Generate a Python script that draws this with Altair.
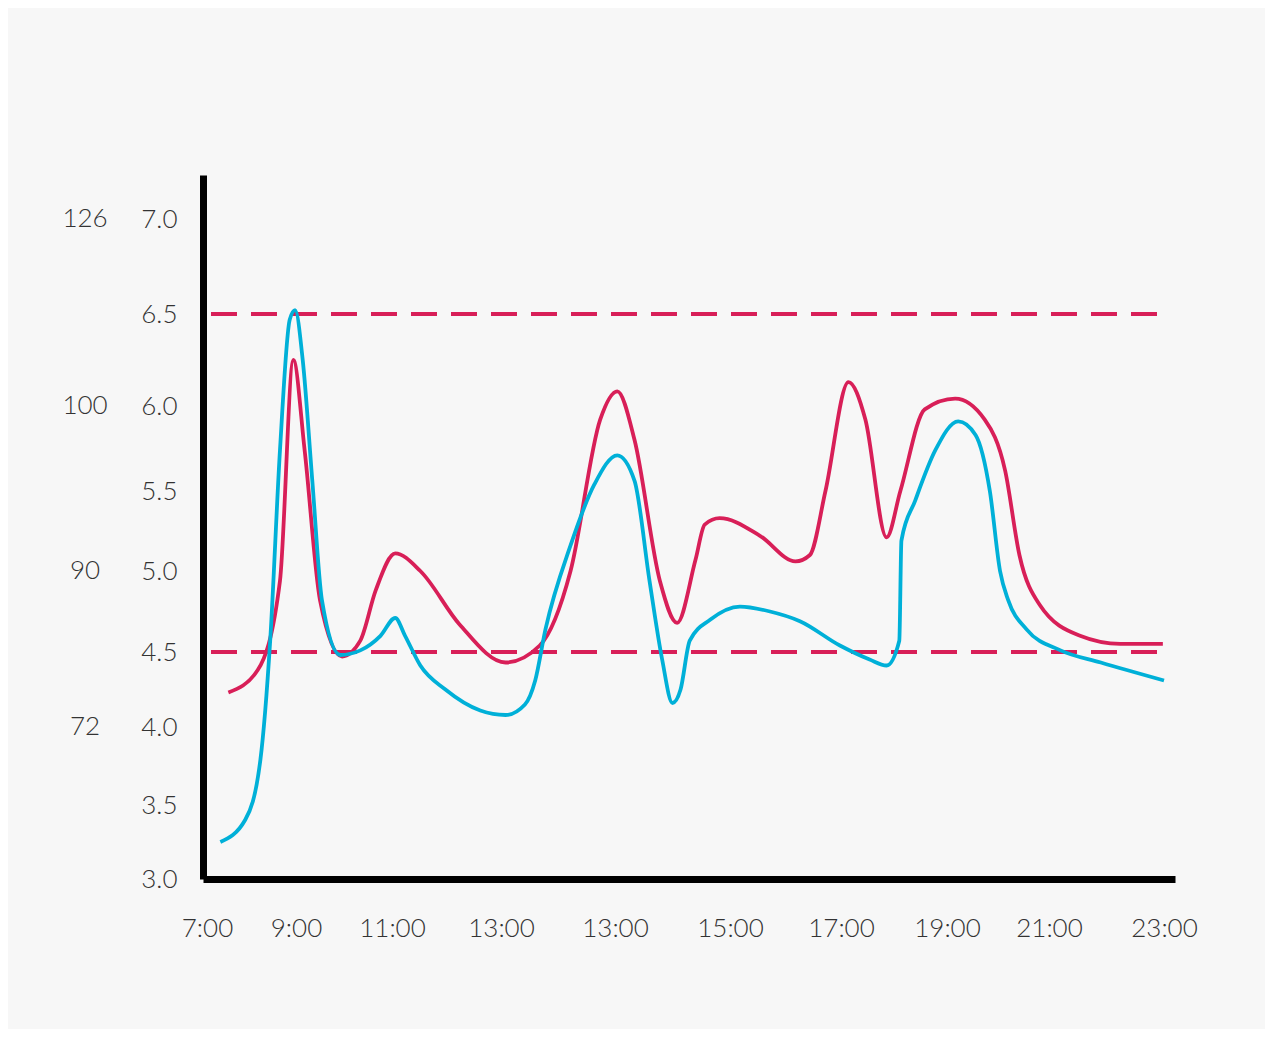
import pandas as pd
import altair as alt

# x positions are tick indices (labels below); y in mmol/L
tick_labels = ["7:00", "9:00", "11:00", "13:00", "13:00", "15:00", "17:00", "19:00", "21:00", "23:00"]
y_ticks = [3.0, 3.5, 4.0, 4.5, 5.0, 5.5, 6.0, 6.5, 7.0]
mg_values = [126, 100, 90, 72]
mg_at = [7.0, 6.0, 5.0, 4.0]
limits = [6.5, 4.5]

red_x = [0.24, 0.57, 0.82, 0.97, 1.09, 1.25, 1.48, 1.67, 1.83, 2.03, 2.26, 2.62, 3.04, 3.34, 3.61,
         3.87, 4.02, 4.17, 4.39, 4.54, 4.70, 4.78, 4.91, 5.27, 5.59, 5.72, 5.86, 6.07, 6.23, 6.43,
         6.56, 6.79, 7.08, 7.37, 7.57, 7.71, 7.91, 8.27, 8.62, 8.99]
red_y = [4.23, 4.38, 4.94, 6.25, 5.74, 4.82, 4.47, 4.57, 4.88, 5.11, 5.0, 4.67, 4.43, 4.54, 5.0,
         5.92, 6.08, 5.80, 4.94, 4.68, 5.07, 5.29, 5.33, 5.22, 5.06, 5.10, 5.5, 6.13, 5.92, 5.21,
         5.5, 5.98, 6.04, 5.92, 5.62, 5.10, 4.79, 4.60, 4.55, 4.55]

blue_x = [0.15, 0.43, 0.60, 0.71, 0.82, 0.93, 0.99, 1.07, 1.17, 1.27, 1.46, 1.67, 1.88, 2.03, 2.12,
          2.26, 2.49, 2.81, 3.04, 3.21, 3.30, 3.39, 3.61, 3.82, 4.02, 4.17, 4.30, 4.41, 4.50, 4.57,
          4.65, 4.83, 5.09, 5.36, 5.63, 5.99, 6.27, 6.43, 6.55, 6.57, 6.70, 6.89, 7.11, 7.28, 7.42,
          7.52, 7.60, 7.78, 8.10, 8.45, 9.0]
blue_y = [3.25, 3.40, 3.79, 4.57, 5.74, 6.47, 6.52, 6.25, 5.56, 4.82, 4.48, 4.51, 4.60, 4.71, 4.60,
          4.41, 4.25, 4.11, 4.08, 4.15, 4.31, 4.64, 5.16, 5.54, 5.71, 5.56, 4.94, 4.45, 4.16, 4.25,
          4.57, 4.70, 4.78, 4.75, 4.69, 4.54, 4.45, 4.41, 4.57, 5.19, 5.44, 5.74, 5.91, 5.83, 5.5,
          5.0, 4.82, 4.64, 4.51, 4.43, 4.31]

RED = "#d81f58"
BLUE = "#00b0d8"
FONT = "Lato"

df = pd.concat([
    pd.DataFrame({"k": red_x, "v": red_y, "s": "red"}),
    pd.DataFrame({"k": blue_x, "v": blue_y, "s": "blue"}),
])

# uneven spacing of the original axes, as piecewise linear scales
x_scale = alt.Scale(domain=[-0.045] + list(range(10)) + [9.1],
                    range=[0, 4, 93, 189, 298, 412, 527, 638, 744, 846, 961, 972])
y_scale = alt.Scale(domain=y_ticks + [7.23], range=[704, 630, 552, 477, 396, 316, 231, 139, 44, 0])

label_expr = "[" + ",".join(f"'{t}'" for t in tick_labels) + "][datum.value]"

x_enc = alt.X("k:Q", scale=x_scale, title=None,
              axis=alt.Axis(values=list(range(10)), labelExpr=label_expr, ticks=False,
                            domainColor="black", domainWidth=7, labelPadding=36,
                            labelFlush=False, labelOverlap=False,
                            labelFontSize=26, labelFont=FONT, labelFontWeight=300,
                            labelColor="#333", grid=False))
y_enc = alt.Y("v:Q", scale=y_scale, title=None,
              axis=alt.Axis(values=y_ticks, format=".1f", ticks=False,
                            domainColor="black", domainWidth=7, labelPadding=26,
                            labelFlush=False, labelOverlap=False,
                            labelFontSize=26, labelFont=FONT, labelFontWeight=300,
                            labelColor="#333", grid=False))

lines = alt.Chart(df).mark_line(interpolate="monotone", strokeWidth=3.8).encode(
    x=x_enc, y=y_enc,
    color=alt.Color("s:N", scale=alt.Scale(domain=["red", "blue"], range=[RED, BLUE]), legend=None),
    detail="s:N",
)

rules = alt.Chart(pd.DataFrame({"v": limits})).mark_rule(
    color=RED, strokeWidth=4, strokeDash=[26, 14]
).encode(x=alt.value(8), x2=alt.value(960), y=alt.Y("v:Q", scale=y_scale))

mg = alt.Chart(pd.DataFrame({"v": mg_at, "t": [str(m) for m in mg_values]})).mark_text(
    font=FONT, fontWeight=300, fontSize=26, color="#333", align="center", baseline="middle"
).encode(x=alt.value(-118), y=alt.Y("v:Q", scale=y_scale), text="t:N")

chart = alt.layer(rules, lines, mg).properties(
    width=972, height=704,
    autosize=alt.AutoSizeParams(type="none"),
    padding={"left": 195, "top": 167, "right": 90, "bottom": 150},
    background="#f7f7f7",
).configure_view(stroke=None)

chart.save("out.html", embed_options={"renderer": "svg", "actions": False})
